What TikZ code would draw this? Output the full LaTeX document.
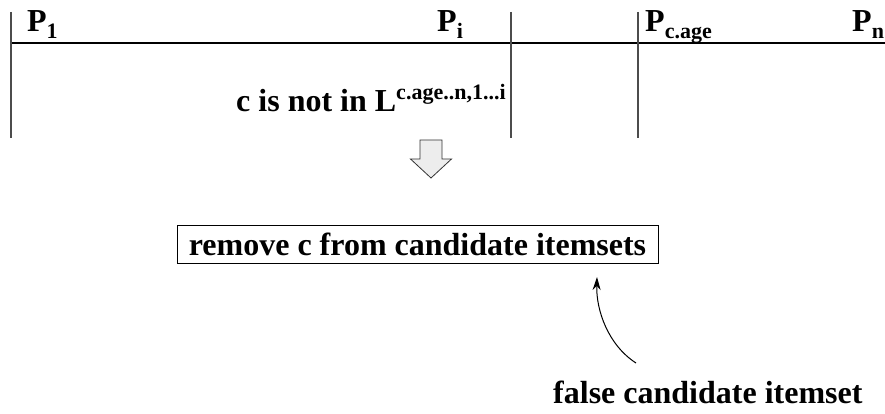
\documentclass[tikz,border=0pt]{standalone}
\usepackage{fontspec}
\setmainfont{Liberation Serif}
\usetikzlibrary{arrows.meta}
\newcommand{\lowsub}[1]{\raisebox{-7pt}{\fontsize{22}{22}\selectfont #1}}
\newcommand{\highsup}[1]{\raisebox{12pt}{\fontsize{22}{22}\selectfont #1}}
\begin{document}
\begin{tikzpicture}[x=1pt,y=-1pt,
  lbl/.style={inner sep=0pt,anchor=base west,font=\fontsize{32}{36}\selectfont\bfseries},
  divider/.style={draw=black!70,line width=1.3pt},
  axis/.style={draw=black,line width=1.3pt},
  stepbox/.style={draw=black,line width=1pt,minimum width=481pt,minimum height=38pt,inner sep=0pt,font=\fontsize{32}{36}\selectfont\bfseries},
  blockarrow/.style={draw=black!80,fill=black!7,line width=0.8pt,line join=miter},
  pointer/.style={-{Stealth[length=13pt,width=8pt]},line width=1pt}]
\useasboundingbox (0,0) rectangle (885,414);
% time axis and partition borders
\coordinate (axL) at (10,43);
\coordinate (axR) at (885,43);
\draw[axis] (axL) -- (axR);
\coordinate (d1t) at (11,12);  \coordinate (d1b) at (11,138);
\coordinate (d2t) at (511,12); \coordinate (d2b) at (511,138);
\coordinate (d3t) at (638,12); \coordinate (d3b) at (638,138);
\draw[divider] (d1t) -- (d1b);
\draw[divider] (d2t) -- (d2b);
\draw[divider] (d3t) -- (d3b);
% partition labels
\node[lbl] (p1) at (27,32) {P\lowsub{1}};
\node[lbl] (pi) at (437,32) {P\lowsub{i}};
\node[lbl] (pc) at (645,32) {P\lowsub{c.age}};
\node[lbl] (pn) at (852,32) {P\lowsub{n}};
% condition
\node[lbl] (cond) at (236,112) {c is not in L\highsup{c.age..n,1...i}};
% implication arrow (hollow block arrow pointing down)
\coordinate (imp) at (431,140);
\draw[blockarrow] (imp) ++(-11,0) -- ++(22,0) -- ++(0,19) -- ++(9.5,0)
  -- ++(-20.5,19) -- ++(-20.5,-19) -- ++(9.5,0) -- cycle;
% action
\node[stepbox] (act) at (417.5,244) {remove c from candidate itemsets};
% annotation
\node[lbl] (note) at (553,403) {false candidate itemset};
\coordinate (ns) at (636,363);
\coordinate (ne) at (597,277);
\draw[pointer] (ns) .. controls (608,345) and (596,310) .. (ne);
\end{tikzpicture}
\end{document}
